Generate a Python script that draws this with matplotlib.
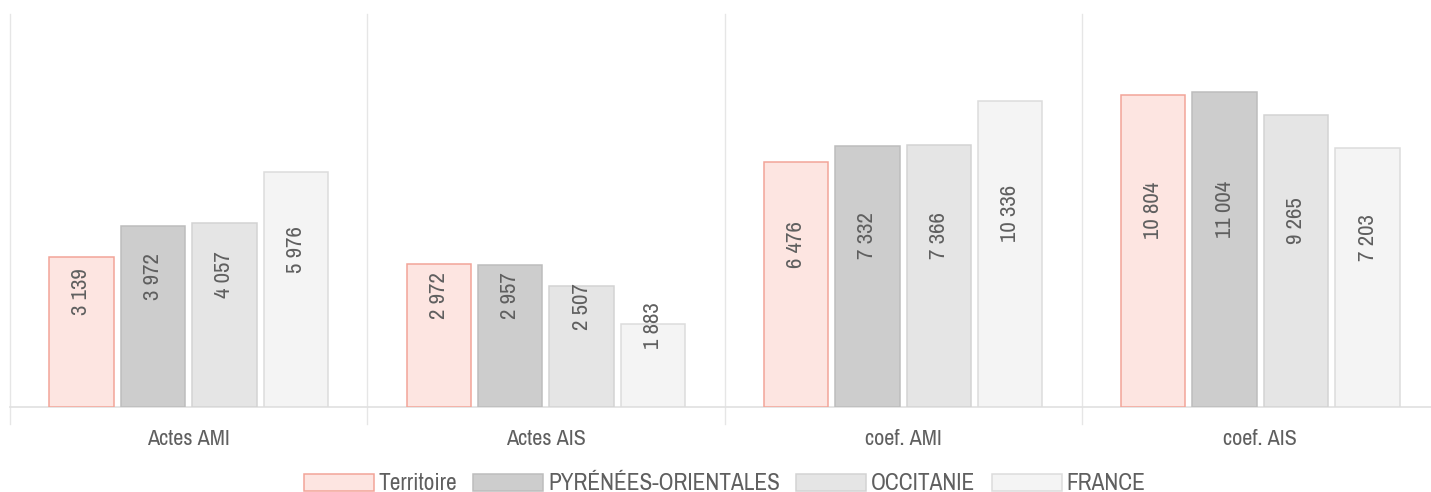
import matplotlib
matplotlib.use("Agg")
import matplotlib.pyplot as plt
import numpy as np

categories = ["Actes AMI", "Actes AIS", "coef. AMI", "coef. AIS"]
series_names = ["Territoire", "PYRÉNÉES-ORIENTALES", "OCCITANIE", "FRANCE"]
territoire = [3139, 2972, 6476, 10804]
pyrenees = [3972, 2957, 7332, 11004]
occitanie = [4057, 2507, 7366, 9265]
france = [5976, 1883, 10336, 7203]

fills = ["#FDE5E1", "#CDCDCD", "#E5E5E5", "#F4F4F4"]
edges = ["#F2A498", "#BDBDBD", "#D3D3D3", "#DCDCDC"]

plt.rcParams['font.family'] = ['Archivo Narrow', 'DejaVu Sans']

W, H = 1431, 492
BASE = 1000
fig = plt.figure(figsize=(W / 100, H / 100), dpi=100)
ax = fig.add_axes([10 / W, 85 / H, 1429 / W, 393 / H])

ax.set_yscale('log')
ax.set_ylim(BASE, 20000)
ax.set_xlim(-0.5, 3.5)

x = np.arange(len(categories))
all_series = [territoire, pyrenees, occitanie, france]
pitch = 0.2
width = 0.18
txt_color = "#5f5f5f"
for i, (vals, name) in enumerate(zip(all_series, series_names)):
    xs = x + (i - 1.5) * pitch
    v = np.array(vals, dtype=float)
    ax.bar(xs, v - BASE, width=width, bottom=BASE, color=fills[i], edgecolor=edges[i],
           linewidth=1.1, label=name, zorder=3)
    for xi, vi in zip(xs, vals):
        lab = f"{vi:,}".replace(",", " ")
        ax.annotate(lab, (xi, np.sqrt(BASE * vi)), xytext=(0, 29), textcoords='offset points',
                    rotation=90, ha='center', va='center', fontsize=16.5, color=txt_color,
                    zorder=4)

# baseline
ax.axhline(BASE, color="#E0E0E0", lw=1.2, zorder=2, clip_on=False)
# separators
for s in np.arange(-0.5, 4.0, 1.0):
    ax.plot([s, s], [-17 / 393, 1.0], transform=ax.get_xaxis_transform(),
            color="#E6E6E6", lw=1.0, clip_on=False, zorder=1)

for sp in ax.spines.values():
    sp.set_visible(False)
ax.set_yticks([])
ax.yaxis.set_minor_locator(matplotlib.ticker.NullLocator())
ax.set_xticks(x)
ax.set_xticklabels(categories, fontsize=16, color=txt_color)
ax.tick_params(axis='x', length=0, pad=16)

leg = fig.legend(loc='lower center', bbox_to_anchor=((10 + 1429 / 2) / W, -0.005), ncol=4,
                 frameon=False, fontsize=16.8, handlelength=3.0, handleheight=0.78,
                 handletextpad=0.2, columnspacing=0.7, borderpad=0, borderaxespad=0)
for t in leg.get_texts():
    t.set_color(txt_color)

fig.savefig("out.png", dpi=100)
